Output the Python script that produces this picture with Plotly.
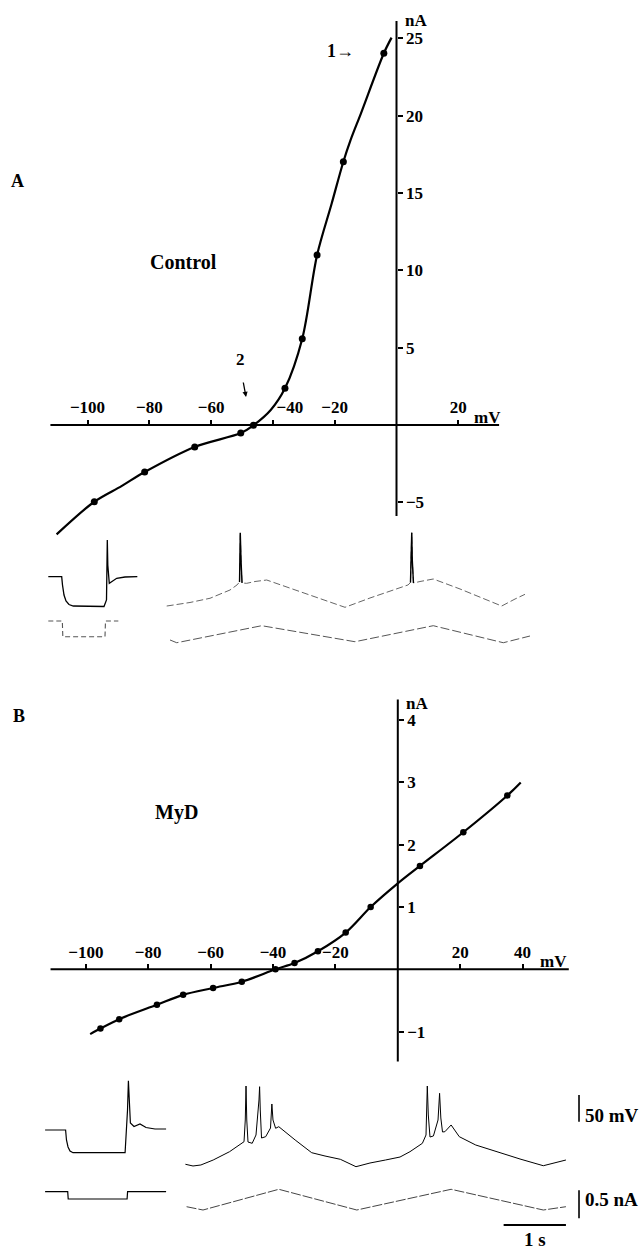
import numpy as np
import plotly.graph_objects as go

W, H = 643, 1254

# ---------------- Panel A: Control I-V (mV, nA) ----------------
ctrl_curve_mv = [-110.0, -97.8, -89.0, -81.5, -65.3, -50.4, -46.3, -40.7, -36.1, -30.5,
                 -25.7, -21.0, -17.2, -14.9, -11.5, -4.1, -1.6]
ctrl_curve_na = [-7.07, -4.96, -3.95, -3.04, -1.42, -0.52, -0.02, 0.97, 2.37, 5.58,
                 10.99, 14.3, 17.02, 18.4, 20.15, 24.03, 25.04]
ctrl_pts_mv = [-97.8, -81.5, -65.3, -50.4, -46.3, -36.1, -30.5, -25.7, -17.2, -4.1]
ctrl_pts_na = [-4.96, -3.04, -1.42, -0.52, -0.02, 2.37, 5.58, 10.99, 17.02, 24.03]
ctrl_xticks = [-100, -80, -60, -40, -20, 20]
ctrl_yticks = [25, 20, 15, 10, 5, -5]

# ---------------- Panel B: MyD I-V ----------------
myd_curve_mv = [-98.6, -95.3, -89.3, -77.2, -68.8, -59.2, -50.0, -39.2, -33.1, -25.6,
                -16.7, -8.7, 0.0, 7.1, 21.0, 35.1, 39.4]
myd_curve_na = [-1.04, -0.95, -0.80, -0.57, -0.41, -0.30, -0.20, 0.0, 0.10, 0.29,
                0.59, 1.0, 1.38, 1.66, 2.20, 2.79, 3.0]
myd_pts_mv = [-95.3, -89.3, -77.2, -68.8, -59.2, -50.0, -39.2, -33.1, -25.6, -16.7, -8.7, 7.1, 21.0, 35.1]
myd_pts_na = [-0.95, -0.80, -0.57, -0.41, -0.30, -0.20, 0.0, 0.10, 0.29, 0.59, 1.0, 1.66, 2.20, 2.79]
myd_xticks = [-100, -80, -60, -40, -20, 20, 40]
myd_yticks = [4, 3, 2, 1, -1]

# ---------------- Recordings (time s, membrane potential change mV, current nA) ----------------
# Control: hyperpolarising step
ctrl_step_t = [0, 0.215, 0.228, 0.252, 0.284, 0.332, 0.401, 0.894, 0.934, 0.942, 0.947, 0.955,
               0.979, 1.022, 1.098, 1.231, 1.429]
ctrl_step_mv = [0, 0, -15.5, -34.3, -45.5, -52.1, -54.9, -55.8, -43.6, 12.5, 68.7, 21.9,
                -12.4, -9.0, -3.0, -0.6, 0]
ctrl_stepI_t = [0, 0.225, 0.233, 0.910, 0.918, 1.124]
ctrl_stepI_na = [0, 0, -0.28, -0.28, 0, 0]
# Control: ramp
ctrl_ramp_t = [0, 0.374, 0.695, 1.016, 1.128, 1.169, 1.177, 1.181, 1.193, 1.209, 1.284, 1.417,
               1.605, 1.979, 2.514, 2.862, 3.263, 3.745, 3.873, 3.913, 3.925, 3.933, 3.942,
               3.961, 4.066, 4.279, 4.708, 5.029, 5.377, 5.591, 5.751]
ctrl_ramp_mv = [-54.9, -48.3, -40.4, -24.9, -15.5, -9.9, 31.3, 82.4, 31.3, -11.8, -12.4, -9.0,
                -6.2, -21.2, -43.6, -57.3, -39.9, -21.7, -15.5, -10.9, 31.3, 82.4, 31.3,
                -11.8, -9.0, -4.3, -23.0, -38.0, -54.9, -41.8, -33.0]
ctrl_rampI_t = [0.053, 0.161, 1.525, 3.022, 4.279, 5.403, 5.831]
ctrl_rampI_na = [-0.339, -0.388, -0.084, -0.370, -0.084, -0.388, -0.268]

# MyD: hyperpolarising step
myd_step_t = [0, 0.329, 0.343, 0.368, 0.400, 0.448, 1.284, 1.298, 1.323, 1.337, 1.352,
              1.369, 1.427, 1.523, 1.620, 1.764, 1.942]
myd_step_mv = [0, 0, -18.7, -31.8, -39.3, -42.5, -42.5, -18.7, 37.5, 92.3, 46.8,
               13.1, 6.6, 11.2, 4.7, 1.9, 1.9]
myd_stepI_t = [0, 0.363, 0.371, 1.316, 1.324, 1.942]
myd_stepI_na = [0, 0, -0.13, -0.13, 0, 0]
# MyD: ramp
myd_ramp_t = [0, 0.122, 0.249, 0.446, 0.709, 0.876, 0.941, 0.961, 0.973, 0.985, 1.005, 1.072,
              1.133, 1.181, 1.191, 1.202, 1.222, 1.289, 1.366, 1.388, 1.406, 1.448, 1.499,
              1.762, 2.027, 2.241, 2.488, 2.738, 2.963, 3.212, 3.445, 3.605, 3.804, 3.862,
              3.883, 3.899, 3.926, 3.981, 4.055, 4.080, 4.100, 4.127, 4.165, 4.265, 4.396,
              4.660, 5.050, 5.371, 5.745, 5.933, 6.108]
myd_ramp_mv = [-64.2, -67.4, -65.5, -56.2, -40.6, -26.2, -21.9, 18.7, 82.4, 18.7, -22.5, -24.9,
               -9.4, 56.2, 81.1, 37.5, -15.0, -12.5, 3.7, 48.7, 18.7, 3.2, 6.2,
               -18.7, -42.5, -48.7, -54.9, -68.7, -61.8, -56.2, -50.6, -40.6, -24.9, -9.4,
               82.4, 28.1, -13.1, -11.2, 18.7, 68.7, 22.5, -3.7, -3.2, 9.4, -12.5,
               -28.1, -43.1, -54.3, -66.9, -61.8, -56.2]
myd_rampI_t = [0.019, 0.283, 1.499, 2.751, 4.265, 5.745, 6.108]
myd_rampI_na = [-0.268, -0.327, 0.043, -0.327, 0.043, -0.327, -0.268]

# scale bars
bar_mv, bar_na, bar_s = 50, 0.5, 1

FONT = "Liberation Serif"
BLACK = "black"


def hspan(px_l, px_r, px_origin, ppu):
    return dict(domain=[px_l / W, px_r / W],
                range=[(px_l - px_origin) / ppu, (px_r - px_origin) / ppu])


def vspan(px_t, px_b, px_origin, ppu):
    return dict(domain=[1 - px_b / H, 1 - px_t / H],
                range=[(px_origin - px_b) / ppu, (px_origin - px_t) / ppu])


def minus(v):
    return f"{v:g}".replace("-", "\u2212")


fig = go.Figure()

# I-V curves
fig.add_trace(go.Scatter(x=ctrl_curve_mv, y=ctrl_curve_na, mode="lines",
                         line=dict(color=BLACK, width=2.2, shape="spline", smoothing=0.9),
                         xaxis="x", yaxis="y", hoverinfo="skip"))
fig.add_trace(go.Scatter(x=ctrl_pts_mv, y=ctrl_pts_na, mode="markers",
                         marker=dict(color=BLACK, size=7), xaxis="x", yaxis="y"))
fig.add_trace(go.Scatter(x=myd_curve_mv, y=myd_curve_na, mode="lines",
                         line=dict(color=BLACK, width=2.2, shape="spline", smoothing=0.9),
                         xaxis="x2", yaxis="y2", hoverinfo="skip"))
fig.add_trace(go.Scatter(x=myd_pts_mv, y=myd_pts_na, mode="markers",
                         marker=dict(color=BLACK, size=6.5), xaxis="x2", yaxis="y2"))

# Control recordings (faint reproduction)
fig.add_trace(go.Scatter(x=ctrl_step_t, y=ctrl_step_mv, mode="lines",
                         line=dict(color=BLACK, width=1.3), xaxis="x3", yaxis="y3"))
fig.add_trace(go.Scatter(x=ctrl_stepI_t, y=ctrl_stepI_na, mode="lines",
                         line=dict(color="#555", width=1.1, dash="5px,3px"), xaxis="x3", yaxis="y4"))
fig.add_trace(go.Scatter(x=ctrl_ramp_t, y=ctrl_ramp_mv, mode="lines",
                         line=dict(color="#666", width=1, dash="7px,3px"), xaxis="x4", yaxis="y3"))
v = np.array(ctrl_ramp_mv)
m = v > 0
m = m | np.roll(m, 1) | np.roll(m, -1)
fig.add_trace(go.Scatter(x=ctrl_ramp_t, y=np.where(m, v, np.nan), mode="lines",
                         line=dict(color=BLACK, width=1.4), connectgaps=False,
                         xaxis="x4", yaxis="y3"))
fig.add_trace(go.Scatter(x=ctrl_rampI_t, y=ctrl_rampI_na, mode="lines",
                         line=dict(color="#555", width=1, dash="9px,3px"), xaxis="x4", yaxis="y4"))

# MyD recordings
fig.add_trace(go.Scatter(x=myd_step_t, y=myd_step_mv, mode="lines",
                         line=dict(color=BLACK, width=1.2), xaxis="x5", yaxis="y5"))
fig.add_trace(go.Scatter(x=myd_stepI_t, y=myd_stepI_na, mode="lines",
                         line=dict(color=BLACK, width=1.2), xaxis="x5", yaxis="y6"))
fig.add_trace(go.Scatter(x=myd_ramp_t, y=myd_ramp_mv, mode="lines",
                         line=dict(color=BLACK, width=1), xaxis="x6", yaxis="y5"))
fig.add_trace(go.Scatter(x=myd_rampI_t, y=myd_rampI_na, mode="lines",
                         line=dict(color="#444", width=1, dash="10px,2px"), xaxis="x6", yaxis="y6"))

tickfont = dict(family=FONT, size=17, color=BLACK, weight="bold")
common_iv = dict(showgrid=False, zeroline=False, showline=False, ticks="outside",
                 ticklen=5, tickwidth=1.6, tickcolor=BLACK, tickfont=tickfont,
                 anchor="free", fixedrange=True)

ctrl_xtext = [minus(t) for t in ctrl_xticks]
ctrl_xtext[ctrl_xticks.index(-40)] = "\u2003\u2003" + ctrl_xtext[ctrl_xticks.index(-40)]

# I-V axes
xa = dict(**hspan(40, 510, 396.5, 3.09), **common_iv, side="top",
          position=1 - 425 / H, tickvals=ctrl_xticks, ticktext=ctrl_xtext)
ya = dict(**vspan(10, 545, 425, 15.47), **common_iv, side="right",
          position=396.5 / W, tickvals=ctrl_yticks, ticktext=[minus(t) for t in ctrl_yticks])
xb = dict(**hspan(40, 580, 397.8, 3.12), **common_iv, side="top",
          position=1 - 969.3 / H, tickvals=myd_xticks, ticktext=[minus(t) for t in myd_xticks])
yb = dict(**vspan(690, 1070, 969.3, 62.3), **common_iv, side="right",
          position=397.8 / W, tickvals=myd_yticks, ticktext=[minus(t) for t in myd_yticks])

hidden = dict(visible=False, showgrid=False, zeroline=False, anchor="free", fixedrange=True)
T_PPU, V_PPU, I_PPU = 62.3, 0.534, 56.0

layout = dict(
    width=W, height=H, margin=dict(l=0, r=0, t=0, b=0),
    paper_bgcolor="white", plot_bgcolor="rgba(0,0,0,0)", showlegend=False,
    font=dict(family=FONT, color=BLACK),
    xaxis=xa, yaxis=ya, xaxis2=xb, yaxis2=yb,
    xaxis3=dict(**hspan(40, 150, 48.3, T_PPU), **hidden),
    xaxis4=dict(**hspan(160, 600, 166.7, T_PPU), **hidden),
    yaxis3=dict(**vspan(520, 612, 576.7, V_PPU), **hidden),
    yaxis4=dict(**vspan(612, 660, 621.0, I_PPU), **hidden),
    xaxis5=dict(**hspan(40, 175, 45.1, T_PPU), **hidden),
    xaxis6=dict(**hspan(180, 600, 185.4, T_PPU), **hidden),
    yaxis5=dict(**vspan(1070, 1178, 1130.0, V_PPU), **hidden),
    yaxis6=dict(**vspan(1180, 1230, 1191.7, I_PPU), **hidden),
)
fig.update_layout(**layout)

shapes = []
# axis lines of the I-V plots (through the origin)
shapes.append(dict(type="line", xref="x", yref="y", x0=-112.0, x1=33.2, y0=0, y1=0,
                   line=dict(color=BLACK, width=2)))
shapes.append(dict(type="line", xref="x", yref="y", x0=0, x1=0, y0=-5.88, y1=26.12,
                   line=dict(color=BLACK, width=2)))
shapes.append(dict(type="line", xref="x2", yref="y2", x0=-111.3, x1=54.8, y0=0, y1=0,
                   line=dict(color=BLACK, width=2)))
shapes.append(dict(type="line", xref="x2", yref="y2", x0=0, x1=0, y0=-1.48, y1=4.33,
                   line=dict(color=BLACK, width=2)))
# scale bars
t_end = myd_ramp_t[-1]
bar_t = t_end + 0.21
shapes.append(dict(type="line", xref="x6", yref="y5", x0=bar_t, x1=bar_t, y0=15.5, y1=15.5 + bar_mv,
                   line=dict(color=BLACK, width=1.6)))
shapes.append(dict(type="line", xref="x6", yref="y6", x0=bar_t, x1=bar_t, y0=-0.475, y1=-0.475 + bar_na,
                   line=dict(color=BLACK, width=1.6)))
shapes.append(dict(type="line", xref="x6", yref="paper", x0=t_end - bar_s, x1=t_end,
                   y0=1 - 1225 / H, y1=1 - 1225 / H, line=dict(color=BLACK, width=2)))
fig.update_layout(shapes=shapes)

ann = []
def label(text, x, y, xref, yref, size=17, xanchor="center", yanchor="middle"):
    ann.append(dict(text=text, x=x, y=y, xref=xref, yref=yref, showarrow=False,
                    font=dict(family=FONT, size=size, color=BLACK, weight="bold"),
                    xanchor=xanchor, yanchor=yanchor))

label("A", 17 / W, 1 - 181 / H, "paper", "paper", size=18)
label("B", 19 / W, 1 - 716 / H, "paper", "paper", size=18)
label("Control", -68.8, 10.54, "x", "y", size=20)
label("MyD", -70.8, 2.51, "x2", "y2", size=20)
label("nA", 2.0, 26.13, "x", "y", size=17, xanchor="left")
label("mV", 29.5, 0.5, "x", "y", size=17, xanchor="center")
label("nA", 2.0, 4.27, "x2", "y2", size=17, xanchor="left")
label("mV", 49.9, 0.12, "x2", "y2", size=17, xanchor="center")
label("1\u2192", -18.0, 24.2, "x", "y", size=18)
label("2", -50.5, 4.26, "x", "y", size=17)
ann.append(dict(text="", x=-48.7, y=1.81, xref="x", yref="y", ax=-3, ay=-16,
                showarrow=True, arrowhead=2, arrowsize=0.8, arrowwidth=1.3, arrowcolor=BLACK))
label("50 mV", bar_t + 0.06, 28, "x6", "y5", size=19, xanchor="left")
label("0.5 nA", bar_t + 0.06, -0.148, "x6", "y6", size=19, xanchor="left")
label("1 s", t_end - bar_s / 2, 1 - 1239 / H, "x6", "paper", size=19)
fig.update_layout(annotations=ann)

fig.write_html("out.html", config={"displayModeBar": False},
               post_script="document.body.style.margin='0px';")
